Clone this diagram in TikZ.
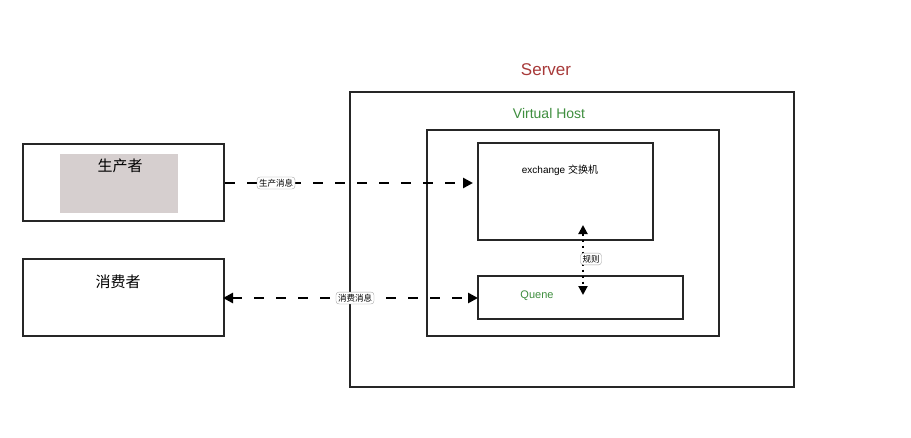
\documentclass[tikz,border=0pt]{standalone}
\usepackage{fontspec}
\setmainfont{Liberation Sans}
\newfontfamily\cjk{Noto Sans CJK SC}
\usetikzlibrary{arrows.meta}
\definecolor{srvred}{HTML}{A83A3A}
\definecolor{vhgreen}{HTML}{3E8E3E}
\definecolor{insetgray}{HTML}{D6CFCF}
\tikzset{
  box/.style={draw=black!85, line width=2pt},
  conn/.style={line width=2.5pt, dash pattern=on 10pt off 12pt, -{Triangle[length=10pt,width=10pt]}},
  tag/.style={draw=black!35, rounded corners=3pt, fill=white, font=\cjk\fontsize{8.5}{10}\selectfont, inner sep=2pt},
}
\begin{document}
\begin{tikzpicture}[x=1pt,y=-1pt]
\useasboundingbox (0,0) rectangle (911,437);
\fill[white] (0,0) rectangle (911,437);
% boxes
\node[box, minimum width=201pt, minimum height=77pt, anchor=north west] (prod) at (22,143) {};
\fill[insetgray] (60,154) rectangle (178,213);
\node[box, minimum width=201pt, minimum height=77pt, anchor=north west] (cons) at (22,258) {};
\node[box, minimum width=444pt, minimum height=295pt, anchor=north west] (server) at (349,91) {};
\node[box, minimum width=292pt, minimum height=206pt, anchor=north west] (vhost) at (426,129) {};
\node[box, minimum width=175pt, minimum height=97pt, anchor=north west] (exch) at (477,142) {};
\node[box, minimum width=205pt, minimum height=43pt, anchor=north west] (queue) at (477,275) {};
% texts
\node[font=\fontsize{17}{19}\selectfont, text=srvred] (tserver) at (546,70) {Server};
\node[font=\fontsize{14}{16}\selectfont, text=vhgreen] (tvh) at (549,113) {Virtual Host};
\node[font=\cjk\fontsize{15}{17}\selectfont] (tprod) at (120,166) {生产者};
\node[font=\cjk\fontsize{15}{17}\selectfont] (tcons) at (118,282) {消费者};
\node[font=\fontsize{10}{12}\selectfont] (texch) at (560,170) {exchange {\cjk 交换机}};
\node[font=\fontsize{11}{13}\selectfont, text=vhgreen] (tq) at (537,296) {Quene};
% connectors
\coordinate (a1) at (225,183);
\coordinate (a2) at (473,183);
\draw[conn] (a1) -- (a2);
\node[tag] (l1) at (276,183) {生产消息};
\coordinate (b1) at (223,298);
\coordinate (b2) at (478,298);
\draw[conn, {Triangle[length=10pt,width=10pt]}-{Triangle[length=10pt,width=10pt]}] (b1) -- (b2);
\node[tag] (l2) at (355,298) {消费消息};
\coordinate (c1) at (583,225);
\coordinate (c2) at (583,295);
\draw[line width=2pt, dash pattern=on 2pt off 4pt, {Triangle[length=9pt,width=9pt]}-{Triangle[length=9pt,width=9pt]}] (c1) -- (c2);
\node[tag] (l3) at (591,259) {规则};
\end{tikzpicture}
\end{document}
